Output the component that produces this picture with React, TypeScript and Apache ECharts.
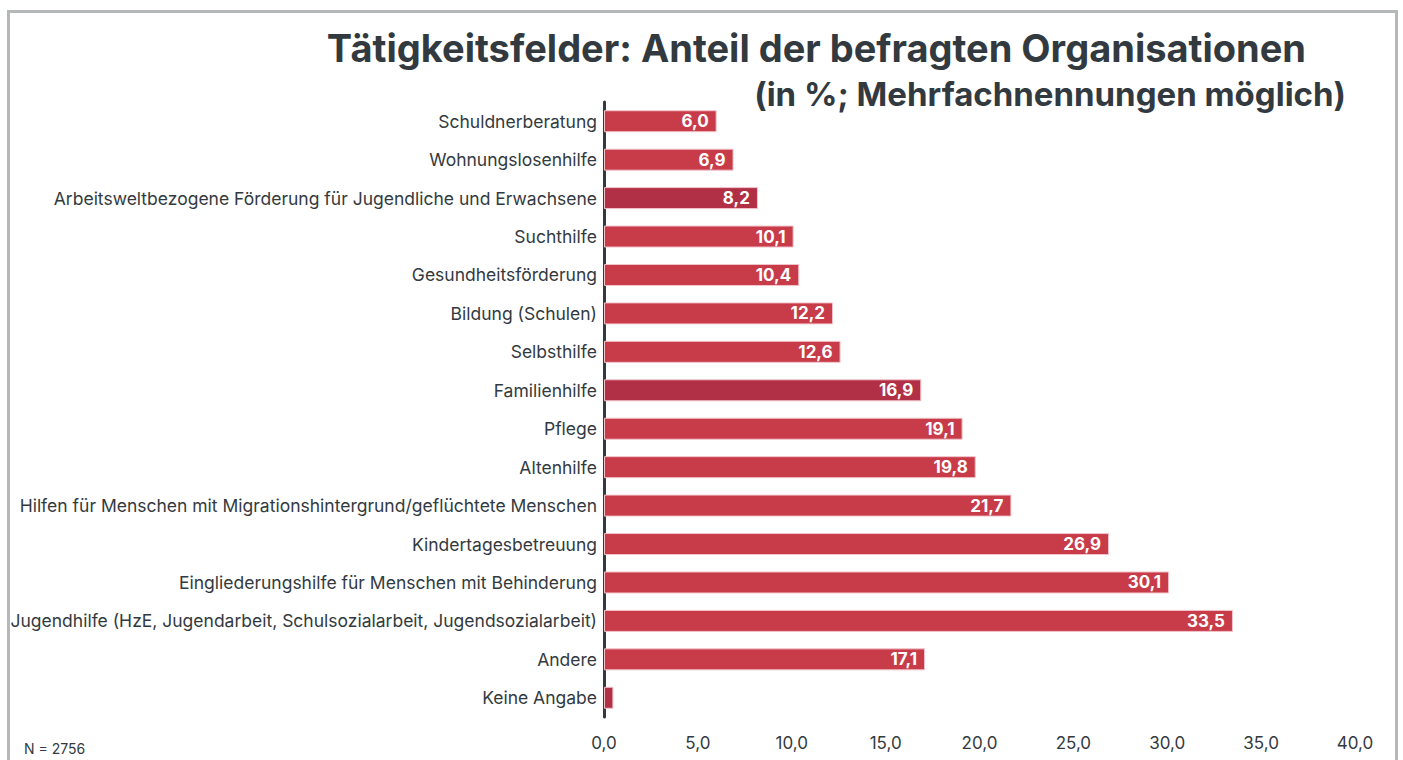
import React, { useEffect, useRef } from "react";
import * as echarts from "echarts";

const categories = [
  "Schuldnerberatung",
  "Wohnungslosenhilfe",
  "Arbeitsweltbezogene Förderung für Jugendliche und Erwachsene",
  "Suchthilfe",
  "Gesundheitsförderung",
  "Bildung (Schulen)",
  "Selbsthilfe",
  "Familienhilfe",
  "Pflege",
  "Altenhilfe",
  "Hilfen für Menschen mit Migrationshintergrund/geflüchtete Menschen",
  "Kindertagesbetreuung",
  "Eingliederungshilfe für Menschen mit Behinderung",
  "Jugendhilfe (HzE, Jugendarbeit, Schulsozialarbeit, Jugendsozialarbeit)",
  "Andere",
  "Keine Angabe",
];
const values = [6.0, 6.9, 8.2, 10.1, 10.4, 12.2, 12.6, 16.9, 19.1, 19.8, 21.7, 26.9, 30.1, 33.5, 17.1, 0.5];
const showLabel = [true, true, true, true, true, true, true, true, true, true, true, true, true, true, true, false];
const barColors = [
  "#c83c4a", "#c83c4a", "#b23045", "#c83c4a", "#c83c4a", "#c83c4a", "#c83c4a", "#b23045",
  "#c83c4a", "#c83c4a", "#c83c4a", "#c83c4a", "#c83c4a", "#c83c4a", "#c83c4a", "#b23045",
];
const titleText = "Tätigkeitsfelder: Anteil der befragten Organisationen";
const subtitleText = "(in %; Mehrfachnennungen möglich)";
const noteText = "N = 2756";

const fmt = (v: number) => v.toFixed(1).replace(".", ",");

export default function App() {
  const ref = useRef<HTMLDivElement>(null);
  useEffect(() => {
    if (!ref.current) return;
    const chart = echarts.init(ref.current, undefined, { renderer: "svg" });
    chart.setOption({
      animation: false,
      backgroundColor: "#ffffff",
      grid: { left: 604, right: 48, top: 102, bottom: 43, containLabel: false },
      xAxis: {
        type: "value",
        min: 0,
        max: 40,
        interval: 5,
        axisLine: { show: false },
        axisTick: { show: false },
        splitLine: { show: false },
        axisLabel: {
          formatter: (v: number) => fmt(v),
          color: "#333a3f",
          fontSize: 17,
          fontFamily: "Inter",
          margin: 17,
        },
      },
      yAxis: {
        type: "category",
        data: categories,
        inverse: true,
        axisLine: { show: true, lineStyle: { color: "#333a3f", width: 3 } },
        axisTick: { show: false },
        axisLabel: {
          color: "#333a3f",
          fontSize: 17.5,
          fontFamily: "Inter",
          margin: 7,
        },
      },
      series: [
        {
          type: "bar",
          barWidth: 22,
          data: values.map((v, i) => ({
            value: v,
            itemStyle: { color: barColors[i], borderColor: "#f2c4cb", borderWidth: 1 },
            label: {
              show: showLabel[i],
              position: "insideRight",
              formatter: (p: any) => fmt(p.value),
              color: "#ffffff",
              fontWeight: "bold",
              fontSize: 17,
              fontFamily: "Inter",
              distance: 8,
            },
          })),
        },
      ],
      graphic: [
        {
          type: "rect",
          shape: { x: 8.5, y: 11.5, width: 1388, height: 800 },
          style: { fill: "none", stroke: "#b5b8b9", lineWidth: 3 },
          silent: true,
          z: -1,
        },
        {
          type: "text",
          right: 1403 - 1306,
          top: 29,
          style: { text: titleText, fill: "#333a3f", font: "bold 38px Inter" },
        },
        {
          type: "text",
          right: 1403 - 1346,
          top: 77,
          style: { text: subtitleText, fill: "#333a3f", font: "bold 33px Inter" },
        },
        {
          type: "text",
          left: 24,
          top: 741,
          style: { text: noteText, fill: "#333a3f", font: "14px Inter" },
        },
      ],
    });
    return () => chart.dispose();
  }, []);
  return (
    <div
      ref={ref}
      style={{ position: "absolute", left: 0, top: 0, width: 1403, height: 760 }}
    />
  );
}
